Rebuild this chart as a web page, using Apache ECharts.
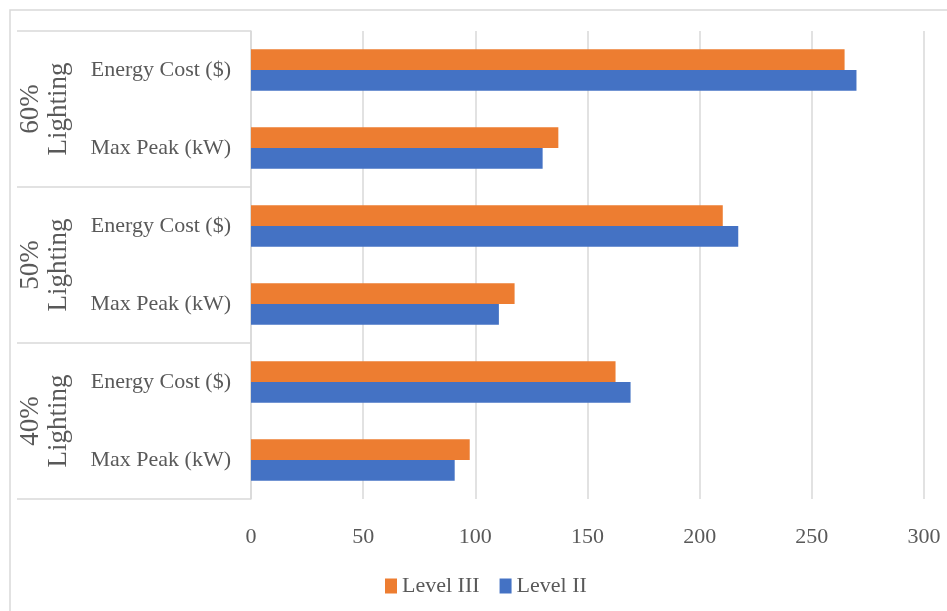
<!DOCTYPE html>
<html>
<head>
<meta charset="utf-8">
<script src="https://cdn.jsdelivr.net/npm/echarts@6/dist/echarts.min.js"></script>
<style>
html,body{margin:0;padding:0;background:#fff;}
#c{width:947px;height:611px;}
</style>
</head>
<body>
<div id="c"></div>
<script>
// Data (bottom to top)
var groups = ['40%\nLighting', '50%\nLighting', '60%\nLighting'];
var measures = ['Max Peak (kW)', 'Energy Cost ($)'];
var seriesNames = ['Level III', 'Level II'];
var levelIII = [97.5, 162.5, 117.5, 210.3, 137, 264.6];
var levelII = [90.8, 169.2, 110.5, 217.2, 130, 269.9];
var xTicks = [0, 50, 100, 150, 200, 250, 300];

var categories = [];
groups.forEach(function (g, gi) {
  measures.forEach(function (m) { categories.push(gi + '|' + m); });
});

var textColor = '#595959';
var fontFamily = '"Liberation Serif", "Times New Roman", serif';
var gridColor = '#d9d9d9';

var chart = echarts.init(document.getElementById('c'));
chart.setOption({
  backgroundColor: '#ffffff',
  animation: false,
  graphic: [{
    type: 'rect',
    shape: { x: 10, y: 10, width: 1000, height: 1000 },
    style: { fill: 'none', stroke: gridColor, lineWidth: 1.5 },
    silent: true,
    z: -10
  }],
  grid: { left: 251, right: 23, top: 31, bottom: 112, containLabel: false },
  xAxis: {
    type: 'value',
    min: xTicks[0],
    max: xTicks[xTicks.length - 1],
    interval: 50,
    axisLine: { show: false },
    axisTick: { show: false },
    splitLine: { show: true, lineStyle: { color: gridColor, width: 1.5 } },
    axisLabel: { color: textColor, fontFamily: fontFamily, fontSize: 22, margin: 27 }
  },
  yAxis: [{
    type: 'category',
    data: categories,
    position: 'left',
    axisLine: { show: true, lineStyle: { color: gridColor, width: 1.5 } },
    axisTick: { show: false },
    axisLabel: {
      color: textColor, fontFamily: fontFamily, fontSize: 22, margin: 20,
      formatter: function (v) { return v.split('|')[1]; }
    }
  }, {
    type: 'category',
    data: groups,
    position: 'left',
    axisLine: { show: false },
    axisTick: { show: true, length: 234, lineStyle: { color: gridColor, width: 1.5 } },
    axisLabel: {
      color: textColor, fontFamily: fontFamily, fontSize: 27, lineHeight: 28,
      rotate: 90, margin: 206, align: 'center', verticalAlign: 'middle'
    }
  }],
  legend: {
    bottom: 9,
    left: 380,
    icon: 'rect',
    itemWidth: 12,
    itemHeight: 15,
    itemGap: 20,
    data: seriesNames,
    textStyle: { color: textColor, fontFamily: fontFamily, fontSize: 22 }
  },
  series: [{
    name: seriesNames[0],
    type: 'bar',
    yAxisIndex: 0,
    data: levelIII,
    barGap: '0%',
    barCategoryGap: '47%',
    itemStyle: { color: '#ED7D31' }
  }, {
    name: seriesNames[1],
    type: 'bar',
    yAxisIndex: 0,
    data: levelII,
    barGap: '0%',
    barCategoryGap: '47%',
    itemStyle: { color: '#4472C4' }
  }]
});
</script>
</body>
</html>
